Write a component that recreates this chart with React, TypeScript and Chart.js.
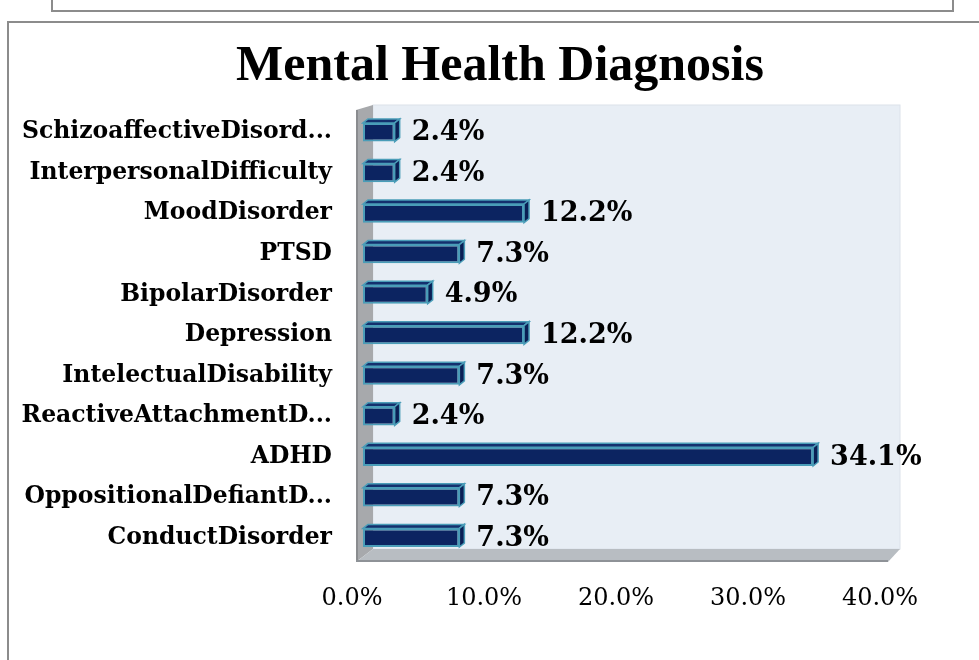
import React, { useEffect, useRef } from "react";
import { Chart, registerables } from "chart.js";

Chart.register(...registerables);

const categories = [
  "SchizoaffectiveDisord...",
  "InterpersonalDifficulty",
  "MoodDisorder",
  "PTSD",
  "BipolarDisorder",
  "Depression",
  "IntelectualDisability",
  "ReactiveAttachmentD...",
  "ADHD",
  "OppositionalDefiantD...",
  "ConductDisorder",
];
const percentValues = [2.4, 2.4, 12.2, 7.3, 4.9, 12.2, 7.3, 2.4, 34.1, 7.3, 7.3];
const xMin = 0;
const xMax = 40;
const xStep = 10;
const chartTitle = "Mental Health Diagnosis";

const LABEL_FONT = "'DejaVu Serif', 'Liberation Serif', serif";

const framePlugin = {
  id: "frame3d",
  beforeDraw(chart: any) {
    const ctx = chart.ctx;
    const { left: L, right: R, top: T, bottom: B } = chart.chartArea;
    ctx.save();
    // outer borders
    ctx.strokeStyle = "#8C8C8C";
    ctx.lineWidth = 2;
    ctx.beginPath();
    ctx.moveTo(8, 660);
    ctx.lineTo(8, 22);
    ctx.lineTo(979, 22);
    ctx.stroke();
    ctx.strokeRect(52, -4, 901, 15);

    // title
    ctx.fillStyle = "#000000";
    ctx.font = "bold 50px 'Liberation Serif', serif";
    ctx.textAlign = "center";
    ctx.textBaseline = "middle";
    ctx.fillText(chartTitle, 500, 67);

    // back wall
    ctx.fillStyle = "#E8EEF5";
    ctx.fillRect(L + 10, T - 7, R + 9 - (L + 10), B - 9 - (T - 7));
    ctx.strokeStyle = "#DCE2EA";
    ctx.lineWidth = 1;
    ctx.strokeRect(L + 10, T - 7, R + 9 - (L + 10), B - 9 - (T - 7));

    // left wall
    ctx.fillStyle = "#A7A9AC";
    ctx.beginPath();
    ctx.moveTo(L - 7, T - 2);
    ctx.lineTo(L + 10, T - 7);
    ctx.lineTo(L + 10, B - 9);
    ctx.lineTo(L - 7, B + 4);
    ctx.closePath();
    ctx.fill();
    ctx.strokeStyle = "#8A8C8F";
    ctx.lineWidth = 2;
    ctx.beginPath();
    ctx.moveTo(L - 6, T - 2);
    ctx.lineTo(L - 6, B + 4);
    ctx.stroke();

    // floor
    ctx.fillStyle = "#B8BDC2";
    ctx.beginPath();
    ctx.moveTo(L - 7, B + 4);
    ctx.lineTo(L + 10, B - 9);
    ctx.lineTo(R + 9, B - 9);
    ctx.lineTo(R - 3, B + 4);
    ctx.closePath();
    ctx.fill();
    ctx.strokeStyle = "#8E9297";
    ctx.lineWidth = 2;
    ctx.beginPath();
    ctx.moveTo(L - 7, B + 3);
    ctx.lineTo(R - 3, B + 3);
    ctx.stroke();
    ctx.restore();
  },
};

const bar3dPlugin = {
  id: "bar3d",
  afterDatasetsDraw(chart: any) {
    const ctx = chart.ctx;
    const meta = chart.getDatasetMeta(0);
    const dx = 5;
    const dy = 4;
    ctx.save();
    meta.data.forEach((el: any, i: number) => {
      const { x, y, base, height } = el.getProps(["x", "y", "base", "height"], true);
      const top = y - height / 2;
      const bottom = y + height / 2;
      // top face
      ctx.beginPath();
      ctx.moveTo(base, top);
      ctx.lineTo(base + dx, top - dy);
      ctx.lineTo(x + dx, top - dy);
      ctx.lineTo(x, top);
      ctx.closePath();
      ctx.fillStyle = "#14306E";
      ctx.fill();
      ctx.strokeStyle = "#4A9DB8";
      ctx.lineWidth = 1.5;
      ctx.stroke();
      // side face
      ctx.beginPath();
      ctx.moveTo(x, top);
      ctx.lineTo(x + dx, top - dy);
      ctx.lineTo(x + dx, bottom - dy);
      ctx.lineTo(x, bottom);
      ctx.closePath();
      ctx.fillStyle = "#0A1F55";
      ctx.fill();
      ctx.stroke();
      // value label
      ctx.fillStyle = "#000000";
      ctx.font = `bold 27px ${LABEL_FONT}`;
      ctx.textAlign = "left";
      ctx.textBaseline = "middle";
      ctx.fillText(percentValues[i].toFixed(1) + "%", x + 17, y + 1);
    });
    ctx.restore();
  },
};

export default function App() {
  const canvasRef = useRef<HTMLCanvasElement | null>(null);

  useEffect(() => {
    document.body.style.margin = "0";
    const canvas = canvasRef.current;
    if (!canvas) return;
    const chart = new Chart(canvas, {
      type: "bar",
      data: {
        labels: categories,
        datasets: [
          {
            data: percentValues,
            backgroundColor: "#0C2461",
            borderColor: "#4A9DB8",
            borderWidth: 2,
            borderSkipped: false,
            barPercentage: 0.46,
            categoryPercentage: 1,
          },
        ],
      },
      options: {
        indexAxis: "y",
        responsive: false,
        animation: false,
        layout: { padding: { left: 0, right: 88, top: 112, bottom: 0 } },
        plugins: {
          legend: { display: false },
          tooltip: { enabled: false },
          title: { display: false },
        },
        scales: {
          x: {
            min: xMin,
            max: xMax,
            grid: { display: false },
            border: { display: false },
            afterFit: (s: any) => {
              s.height = 102;
            },
            ticks: {
              stepSize: xStep,
              padding: 18,
              labelOffset: -11,
              color: "#000000",
              font: { family: LABEL_FONT, size: 24 },
              callback: (v: any) => Number(v).toFixed(1) + "%",
            },
          },
          y: {
            grid: { display: false },
            border: { display: false },
            afterFit: (s: any) => {
              s.width = 363;
            },
            ticks: {
              padding: 23,
              color: "#000000",
              font: { family: LABEL_FONT, size: 23.5, weight: "bold" },
            },
          },
        },
      },
      plugins: [framePlugin, bar3dPlugin],
    });
    return () => chart.destroy();
  }, []);

  return (
    <div style={{ width: 979, height: 660 }}>
      <canvas ref={canvasRef} width={979} height={660} style={{ display: "block" }} />
    </div>
  );
}
